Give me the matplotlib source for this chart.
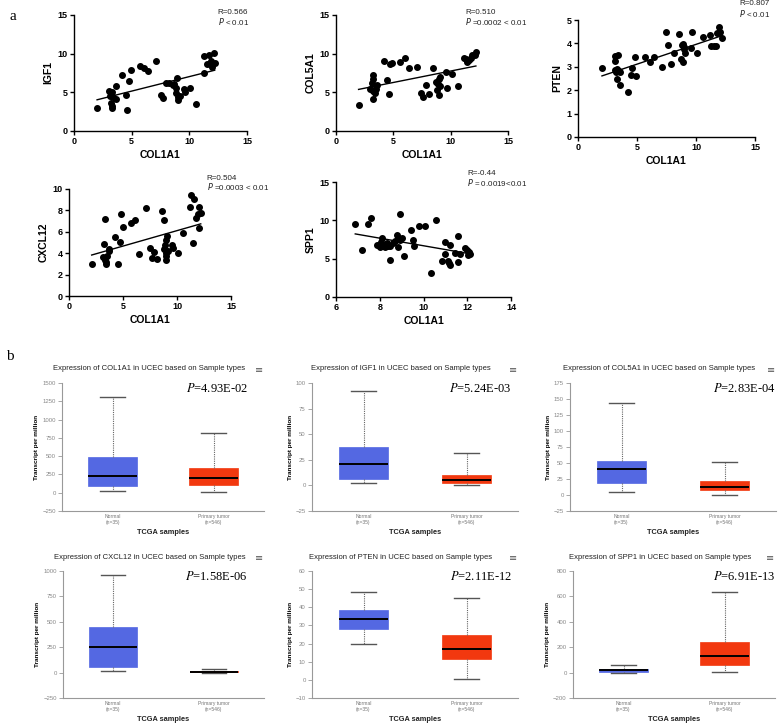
import numpy as np
import matplotlib
matplotlib.use("Agg")
import matplotlib.pyplot as plt

# ---- panel a: scatter data ----
igf1_x = [2.0, 3.0, 3.27, 3.1, 3.4, 3.24, 3.3, 3.3, 3.6, 3.6, 4.2, 4.5, 4.6, 4.8, 4.9, 5.7, 6.1, 6.45,
          7.1, 7.5, 7.7, 7.95, 8.2, 8.6, 8.7, 8.85, 8.9, 8.85, 9.0, 9.05, 9.2, 9.55, 9.6, 10.1, 10.6,
          11.3, 11.3, 11.7, 11.5, 11.9, 12.1, 12.0, 12.2, 11.75]
igf1_y = [3.0, 5.2, 5.0, 4.5, 4.4, 3.6, 3.2, 3.0, 5.8, 4.2, 7.2, 4.6, 2.7, 6.5, 7.9, 8.4, 8.1, 7.7,
          9.0, 4.6, 4.3, 6.2, 6.2, 5.9, 6.1, 5.5, 6.9, 4.9, 4.0, 4.4, 4.5, 5.4, 5.1, 5.5, 3.5,
          7.5, 9.7, 9.8, 8.6, 9.1, 10.1, 8.3, 8.8, 8.7]

col5a1_x = [1.97, 3.2, 3.2, 3.1, 3.0, 3.2, 3.35, 3.4, 3.2, 3.6, 3.5, 4.2, 4.45, 4.6, 4.7, 4.9, 5.6,
            6.05, 6.4, 7.1, 7.45, 7.6, 7.85, 8.1, 8.5, 8.7, 8.8, 8.9, 9.0, 9.1, 8.95, 9.1, 9.55,
            9.65, 10.1, 10.6, 11.2, 11.3, 11.45, 11.6, 11.8, 11.9, 12.1, 12.2]
col5a1_y = [3.37, 7.2, 6.7, 6.2, 5.4, 5.2, 5.3, 4.9, 4.2, 5.9, 5.4, 9.0, 6.6, 4.8, 8.6, 8.8, 8.9,
            9.5, 8.1, 8.3, 4.9, 4.4, 5.9, 4.8, 8.2, 6.4, 5.3, 6.1, 6.7, 7.0, 4.7, 5.8, 7.6,
            5.6, 7.4, 5.8, 9.5, 9.25, 8.95, 9.2, 9.5, 9.8, 9.8, 10.2]

pten_x = [2.03, 3.1, 3.16, 3.35, 3.16, 3.3, 3.25, 3.5, 3.27, 3.6, 3.6, 4.2, 4.57, 4.5, 4.8, 4.9,
          5.64, 6.06, 6.45, 7.1, 7.47, 7.64, 7.9, 8.1, 8.57, 8.8, 8.9, 8.7, 8.9, 9.0, 9.1, 9.0,
          9.64, 9.55, 10.1, 10.6, 11.2, 11.25, 11.5, 11.67, 11.77, 11.95, 12.03, 12.2]
pten_y = [2.94, 3.25, 3.47, 3.5, 2.87, 2.9, 2.76, 2.8, 2.47, 2.76, 2.23, 1.93, 2.94, 2.64, 3.44, 2.61,
          3.4, 3.22, 3.41, 2.98, 4.49, 3.92, 3.1, 3.6, 4.4, 3.92, 3.98, 3.34, 3.22, 3.75, 3.6, 3.86,
          4.49, 3.82, 3.58, 4.26, 4.35, 3.89, 3.89, 3.9, 4.43, 4.69, 4.47, 4.25]

cxcl12_x = [2.1, 3.2, 3.35, 3.16, 3.3, 3.38, 3.45, 3.5, 3.7, 3.72, 4.3, 4.55, 4.68, 4.83, 5.0, 5.7,
            6.13, 6.45, 7.13, 7.5, 7.65, 7.9, 8.15, 8.6, 8.77, 8.83, 8.9, 8.95, 9.05, 8.95, 8.95,
            8.95, 9.14, 9.55, 9.64, 10.1, 10.57, 11.25, 11.22, 11.46, 11.6, 11.75, 11.97, 12.06,
            12.03, 12.2]
cxcl12_y = [2.95, 4.86, 7.24, 3.67, 3.35, 3.17, 2.98, 3.73, 4.23, 4.42, 5.55, 2.95, 5.02, 7.71, 6.43,
            6.8, 7.08, 3.89, 8.21, 4.45, 3.54, 4.08, 3.48, 7.96, 7.12, 4.36, 4.8, 5.23, 5.61, 3.98,
            3.73, 3.35, 4.2, 4.73, 4.45, 4.04, 5.92, 9.44, 8.34, 4.92, 9.03, 7.27, 7.68, 8.34,
            6.39, 7.8]

spp1_x = [6.88, 7.17, 7.46, 7.6, 7.87, 8.06, 8.1, 8.03, 8.18, 8.23, 8.33, 8.38, 8.45, 8.48, 8.59,
          8.68, 8.77, 8.82, 8.85, 8.91, 8.94, 9.02, 9.1, 9.43, 9.51, 9.58, 9.81, 10.07, 10.33,
          10.56, 10.83, 10.97, 11.0, 11.1, 11.18, 11.2, 11.23, 11.44, 11.57, 11.58, 11.67, 11.91,
          11.99, 12.02, 12.1, 12.14]
spp1_y = [9.58, 6.07, 9.58, 10.36, 6.76, 7.19, 7.76, 6.46, 6.76, 6.46, 7.06, 6.63, 4.81, 6.63, 6.98,
          7.28, 8.06, 7.71, 6.46, 7.41, 10.88, 7.71, 5.33, 8.71, 7.5, 6.67, 9.28, 9.32, 3.16,
          10.1, 4.72, 7.15, 5.59, 4.72, 4.46, 4.16, 6.72, 5.76, 7.98, 4.51, 5.59, 6.37,
          6.11, 5.42, 5.85, 5.55]

# ---- panel b: box statistics (TPM) ----
box_genes = ["COL1A1", "IGF1", "COL5A1", "CXCL12", "PTEN", "SPP1"]
p_values = ["4.93E-02", "5.24E-03", "2.83E-04", "1.58E-06", "2.11E-12", "6.91E-13"]
normal_low = [23, 2.3, 4.2, 16, 19.8, 0]
normal_q1 = [87, 6.2, 19.4, 56, 27.9, 8]
normal_med = [229, 21.3, 40.3, 249, 33.7, 18]
normal_q3 = [495, 37.3, 52.9, 452, 38.7, 26]
normal_high = [1305, 92.3, 144.5, 959, 48.6, 63]
tumor_low = [14, 0, 0, 0, 0.7, 8]
tumor_q1 = [105, 2.3, 7.3, 2, 11.5, 63]
tumor_med = [197, 5.2, 13.1, 7, 17.2, 131]
tumor_q3 = [339, 10.5, 22.5, 16, 24.6, 241]
tumor_high = [811, 31.4, 51.3, 33, 45.3, 636]
group_labels = ["Normal\n(n=35)", "Primary tumor\n(n=546)"]

W, H = 778, 723
plt.rcParams["font.family"] = ["Liberation Sans", "DejaVu Sans"]
fig = plt.figure(figsize=(W / 100, H / 100), dpi=100)


def px_axes(x0, y0, x1, y1):
    # axes from pixel box (top-left origin)
    return fig.add_axes([x0 / W, 1 - y1 / H, (x1 - x0) / W, (y1 - y0) / H])


def scatter_panel(box, x, y, ylab, xlim, ylim, xt, yt, r_txt, p_txt, tx, ty_r, ty_p):
    ax = px_axes(*box)
    ax.scatter(x, y, s=16, color="black", zorder=3)
    k, b = np.polyfit(x, y, 1)
    xx = np.array([min(x), max(x)])
    ax.plot(xx, k * xx + b, color="black", lw=1.0)
    ax.set_xlim(*xlim)
    ax.set_ylim(*ylim)
    ax.set_xticks(xt)
    ax.set_yticks(yt)
    for s in ("top", "right"):
        ax.spines[s].set_visible(False)
    for s in ("left", "bottom"):
        ax.spines[s].set_linewidth(1.0)
    ax.tick_params(direction="out", length=3, width=1, labelsize=6.5, pad=1.5)
    for lab in ax.get_xticklabels() + ax.get_yticklabels():
        lab.set_fontweight("bold")
    ax.set_xlabel("COL1A1", fontsize=7.5, fontweight="bold", labelpad=3)
    ax.set_ylabel(ylab, fontsize=7.5, fontweight="bold", labelpad=3)
    ax.text(tx, ty_r, r_txt, transform=ax.transAxes, fontsize=5.8, va="center", color="#222")
    ax.text(tx, ty_p, p_txt, transform=ax.transAxes, fontsize=5.8, va="center", color="#222",
            math_fontfamily="dejavusans")
    return ax


scatter_panel((74, 15, 247, 131), igf1_x, igf1_y, "IGF1", (0, 15), (0, 15), [0, 5, 10, 15], [0, 5, 10, 15],
              "R=0.566", "$P$ < 0.01", 0.83, 1.025, 0.945)
scatter_panel((336, 15, 508, 131), col5a1_x, col5a1_y, "COL5A1", (0, 15), (0, 15), [0, 5, 10, 15], [0, 5, 10, 15],
              "R=0.510", "$P$ =0.0002 < 0.01", 0.75, 1.025, 0.945)
scatter_panel((578, 20, 755, 137), pten_x, pten_y, "PTEN", (0, 15), (0, 5), [0, 5, 10, 15], [0, 1, 2, 3, 4, 5],
              "R=0.807", "$P$ < 0.01", 0.91, 1.14, 1.055)
scatter_panel((69, 189, 231, 296), cxcl12_x, cxcl12_y, "CXCL12", (0, 15), (0, 10), [0, 5, 10, 15], [0, 2, 4, 6, 8, 10],
              "R=0.504", "$P$ =0.0003 < 0.01", 0.85, 1.10, 1.02)
scatter_panel((336, 182, 511, 297), spp1_x, spp1_y, "SPP1", (6, 14), (0, 15), [6, 8, 10, 12, 14], [0, 5, 10, 15],
              "R=-0.44", "$P$ = 0.0019<0.01", 0.75, 1.075, 1.0)

fig.text(10 / W, 1 - 17 / H, "a", fontsize=11, family="Liberation Serif", va="center")
fig.text(6 / W, 1 - 356 / H, "b", fontsize=11, family="Liberation Serif", va="center")

# ---- panel b: box plots ----
box_frames = [(62, 383, 264, 511), (312, 383, 518, 511), (570, 383, 776, 511),
              (63, 571, 264, 698), (312, 571, 518, 698), (573, 571, 775, 698)]
y_ranges = [(-250, 1500, 250), (-25, 100, 25), (-25, 175, 25),
            (-250, 1000, 250), (-10, 60, 10), (-200, 800, 200)]
p_xpos = [0.92, 0.97, 1.0, 0.92, 0.97, 1.0]
normal_color = "#5468E2"
tumor_color = "#F2380F"

for i, gene in enumerate(box_genes):
    ax = px_axes(*box_frames[i])
    stats = [
        dict(whislo=normal_low[i], q1=normal_q1[i], med=normal_med[i], q3=normal_q3[i],
             whishi=normal_high[i], fliers=[]),
        dict(whislo=tumor_low[i], q1=tumor_q1[i], med=tumor_med[i], q3=tumor_q3[i],
             whishi=tumor_high[i], fliers=[]),
    ]
    bp = ax.bxp(stats, positions=[1, 2], widths=0.48, capwidths=0.24, patch_artist=True,
                showfliers=False,
                whiskerprops=dict(color="#666666", lw=0.8, linestyle=(0, (1, 1))),
                capprops=dict(color="#555555", lw=1.0),
                medianprops=dict(color="black", lw=1.4))
    for patch, c in zip(bp["boxes"], [normal_color, tumor_color]):
        patch.set_facecolor(c)
        patch.set_edgecolor(c)
        patch.set_linewidth(0.5)
    lo, hi, step = y_ranges[i]
    ax.set_ylim(lo, hi)
    ax.set_yticks(np.arange(lo, hi + step, step))
    ax.set_xlim(0.5, 2.5)
    ax.set_xticks([1, 2])
    ax.set_xticklabels(group_labels, fontsize=3.6, color="#777777", linespacing=1.3)
    for s in ("top", "right"):
        ax.spines[s].set_visible(False)
    for s in ("left", "bottom"):
        ax.spines[s].set_color("#999999")
        ax.spines[s].set_linewidth(0.8)
    ax.tick_params(axis="y", direction="out", length=3, width=0.6, color="#999999",
                   labelsize=4.3, labelcolor="#888888", pad=1.5)
    ax.tick_params(axis="x", length=0, pad=2)
    ax.set_ylabel("Transcript per million", fontsize=4.6, fontweight="bold", labelpad=2)
    ax.set_xlabel("TCGA samples", fontsize=5.3, fontweight="bold", labelpad=3, color="#222")
    ax.text(0.43, 1.11, "Expression of %s in UCEC based on Sample types" % gene,
            transform=ax.transAxes, ha="center", va="center", fontsize=5.5, color="#222222")
    ax.text(0.975, 1.10, "\u2261", transform=ax.transAxes, ha="center", va="center",
            fontsize=7, color="#555555", family="DejaVu Sans")
    ax.text(p_xpos[i], 0.955, "$P$=%s" % p_values[i], transform=ax.transAxes, ha="right",
            va="center", fontsize=9, family="Liberation Serif", math_fontfamily="stix")

fig.savefig("out.png", dpi=100)
